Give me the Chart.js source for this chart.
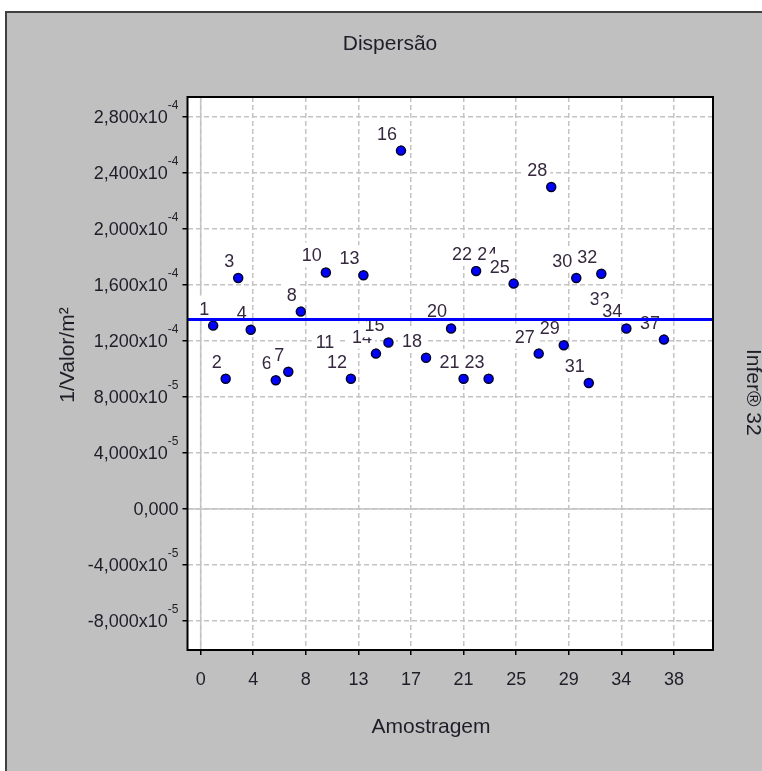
<!DOCTYPE html>
<html>
<head>
<meta charset="utf-8">
<script src="https://cdn.jsdelivr.net/npm/chart.js@4.4.0/dist/chart.umd.min.js"></script>
<style>
  html, body { margin: 0; padding: 0; background: #fff; }
  canvas { display: block; }
</style>
</head>
<body>
<canvas id="grafico" width="762" height="771"></canvas>
<script>
// numero de cada amostra e o valor 1/Valor/m²
var amostras = [1, 2, 3, 4, 6, 7, 8, 10, 11, 12, 13, 14, 15, 16, 18, 20, 21, 22, 23, 24, 25, 27, 28, 29, 30, 31, 32, 33, 34, 37];
var valores = [1.31e-4, 9.3e-5, 1.65e-4, 1.28e-4, 9.2e-5, 9.8e-5, 1.41e-4, 1.69e-4, 1.07e-4, 9.3e-5,
               1.67e-4, 1.11e-4, 1.19e-4, 2.56e-4, 1.08e-4, 1.29e-4, 9.3e-5, 1.70e-4, 9.3e-5, 1.70e-4,
               1.61e-4, 1.11e-4, 2.30e-4, 1.17e-4, 1.65e-4, 9.0e-5, 1.68e-4, 1.38e-4, 1.29e-4, 1.21e-4];
var media = 1.353e-4;

// eixos
var xMin = -1.05, xMax = 40.92;
var yMin = -1.007e-4, yMax = 2.943e-4;
var xTicks = [0, 4.2, 8.4, 12.6, 16.8, 21, 25.2, 29.4, 33.6, 37.8];
var xTickLabels = ['0', '4', '8', '13', '17', '21', '25', '29', '34', '38'];
var yTicks = [-8e-5, -4e-5, 0, 4e-5, 8e-5, 1.2e-4, 1.6e-4, 2.0e-4, 2.4e-4, 2.8e-4];

var FONTE = '"Liberation Sans", Arial, sans-serif';

function rotuloY(v) {
  if (v === 0) return { m: '0,000', e: '' };
  var e = Math.floor(Math.log10(Math.abs(v)) + 1e-9);
  var m = v / Math.pow(10, e);
  return { m: m.toFixed(3).replace('.', ',') + 'x10', e: String(e) };
}

var desenho = {
  id: 'desenho',
  beforeDraw: function (chart) {
    var ctx = chart.ctx, a = chart.chartArea;
    ctx.save();
    ctx.fillStyle = '#fff';
    ctx.fillRect(0, 0, chart.width, chart.height);
    ctx.fillStyle = '#c0c0c0';
    ctx.fillRect(5, 11, chart.width - 5, chart.height - 11);
    ctx.strokeStyle = '#404040';
    ctx.lineWidth = 2;
    ctx.beginPath();
    ctx.moveTo(6, chart.height);
    ctx.lineTo(6, 12);
    ctx.lineTo(chart.width, 12);
    ctx.stroke();
    ctx.fillStyle = '#fff';
    ctx.fillRect(a.left, a.top, a.right - a.left, a.bottom - a.top);
    ctx.restore();
  },
  beforeDatasetsDraw: function (chart) {
    // linhas do zero, continuas
    var ctx = chart.ctx, a = chart.chartArea;
    var x0 = chart.scales.x.getPixelForValue(0);
    var y0 = chart.scales.y.getPixelForValue(0);
    ctx.save();
    ctx.strokeStyle = '#c4c4c4';
    ctx.lineWidth = 1.5;
    ctx.beginPath();
    ctx.moveTo(x0, a.top); ctx.lineTo(x0, a.bottom);
    ctx.moveTo(a.left, y0); ctx.lineTo(a.right, y0);
    ctx.stroke();
    ctx.restore();
  },
  afterDatasetDraw: function (chart, args) {
    if (args.index !== 0) return;
    // marcas com o numero da amostra, fundo branco
    var ctx = chart.ctx;
    ctx.save();
    ctx.font = '18px ' + FONTE;
    ctx.textAlign = 'right';
    ctx.textBaseline = 'middle';
    args.meta.data.forEach(function (pt, i) {
      var txt = String(amostras[i]);
      var w = ctx.measureText(txt).width;
      var dir = pt.x - 4, cy = pt.y - 17;
      ctx.fillStyle = '#fff';
      ctx.fillRect(dir - w - 4, cy - 13, w + 7, 25);
      ctx.fillStyle = '#35283f';
      ctx.fillText(txt, dir, cy + 1);
    });
    ctx.restore();
  },
  afterDraw: function (chart) {
    var ctx = chart.ctx, a = chart.chartArea;
    var sx = chart.scales.x, sy = chart.scales.y;
    ctx.save();
    // moldura da area do grafico
    ctx.strokeStyle = '#000';
    ctx.lineWidth = 2;
    ctx.strokeRect(a.left, a.top, a.right - a.left, a.bottom - a.top);

    ctx.fillStyle = '#1e1e28';
    // rotulos do eixo x
    ctx.font = '18px ' + FONTE;
    ctx.textAlign = 'center';
    ctx.textBaseline = 'middle';
    xTicks.forEach(function (v, i) {
      ctx.fillText(xTickLabels[i], sx.getPixelForValue(v), a.bottom + 30);
    });
    // rotulos do eixo y com expoente
    var dir = a.left - 9;
    yTicks.forEach(function (v) {
      var r = rotuloY(v), ty = sy.getPixelForValue(v);
      ctx.textAlign = 'right';
      ctx.font = '12px ' + FONTE;
      var ew = r.e ? ctx.measureText(r.e).width : 0;
      if (r.e) ctx.fillText(r.e, dir, ty - 11);
      ctx.font = '18px ' + FONTE;
      ctx.fillText(r.m, dir - ew, ty + 1);
    });

    // titulos
    ctx.textAlign = 'center';
    ctx.font = '21px ' + FONTE;
    ctx.fillText('Dispersão', 390, 44);
    ctx.fillText('Amostragem', 431, 727);

    ctx.save();
    ctx.translate(68, 355);
    ctx.rotate(-Math.PI / 2);
    ctx.fillText('1/Valor/m²', 0, 0);
    ctx.restore();

    ctx.save();
    ctx.translate(747, 349);
    ctx.rotate(Math.PI / 2);
    ctx.textAlign = 'left';
    ctx.textBaseline = 'alphabetic';
    ctx.fillText('Infer® 32', 0, 0);
    ctx.restore();

    ctx.restore();
  }
};

function eixo(min, max, ticks) {
  return {
    type: 'linear',
    min: min,
    max: max,
    afterBuildTicks: function (s) { s.ticks = ticks.map(function (v) { return { value: v }; }); },
    ticks: { display: false },
    grid: { color: '#c4c4c4', lineWidth: 1.5, tickLength: 5, tickColor: '#000', tickWidth: 1.5 },
    border: { display: false, dash: [5, 3] }
  };
}

new Chart(document.getElementById('grafico'), {
  type: 'scatter',
  data: {
    datasets: [{
      label: 'Amostras',
      data: amostras.map(function (a, i) { return { x: a, y: valores[i] }; }),
      pointStyle: 'circle',
      pointRadius: 4.5,
      pointBackgroundColor: '#0000ff',
      pointBorderColor: '#00002a',
      pointBorderWidth: 1.5,
      order: 2
    }, {
      type: 'line',
      label: 'Média',
      data: [{ x: xMin, y: media }, { x: xMax, y: media }],
      borderColor: '#0000ff',
      borderWidth: 3,
      pointRadius: 0,
      order: 1
    }]
  },
  options: {
    responsive: false,
    animation: false,
    devicePixelRatio: 1,
    layout: { padding: { left: 182.5, top: 97, right: 49, bottom: 116 }, autoPadding: false },
    plugins: {
      legend: { display: false },
      tooltip: { enabled: false },
      title: { display: false }
    },
    scales: {
      x: eixo(xMin, xMax, xTicks),
      y: eixo(yMin, yMax, yTicks)
    }
  },
  plugins: [desenho]
});
</script>
</body>
</html>
